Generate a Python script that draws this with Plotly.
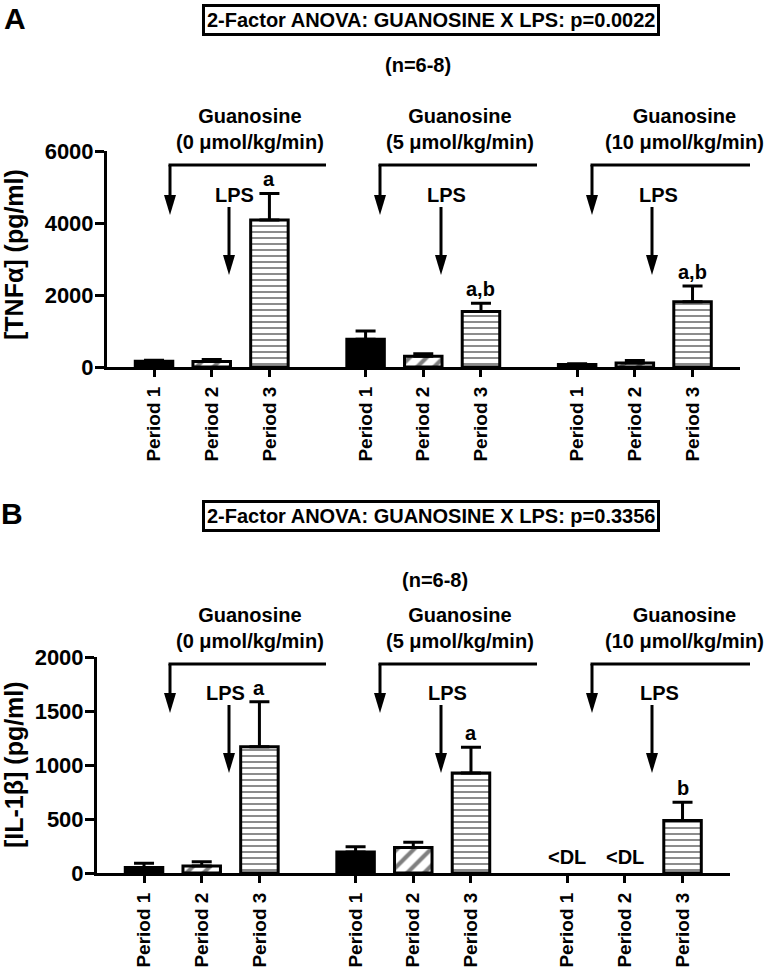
import plotly.graph_objects as go

W, H = 767, 967

# ---------------- data ----------------
periods = ["Period 1", "Period 2", "Period 3"]
doses = ["0", "5", "10"]
group_gap = 11 / 3  # spacing between guanosine groups (category units)

# Panel A: TNF-alpha (pg/ml), one value per guanosine dose
tnf_p1 = [160, 770, 70]
tnf_p1_err = [30, 230, 20]
tnf_p2 = [150, 300, 110]
tnf_p2_err = [60, 70, 70]
tnf_p3 = [4080, 1540, 1810]
tnf_p3_err = [740, 230, 440]
tnf_letters = ["a", "a,b", "a,b"]
tnf_ticks = [0, 2000, 4000, 6000]

# Panel B: IL-1beta (pg/ml); None = below detection limit
il1_p1 = [50, 195, None]
il1_p1_err = [40, 48, None]
il1_p2 = [65, 235, None]
il1_p2_err = [40, 50, None]
il1_p3 = [1170, 925, 485]
il1_p3_err = [415, 240, 170]
il1_letters = ["a", "a", "b"]
il1_ticks = [0, 500, 1000, 1500, 2000]

FONT = "Liberation Sans, Arial, Helvetica, sans-serif"

def px(x, y):
    return x / W, 1 - y / H

fig = go.Figure()

patterns = [
    dict(shape=""),
    dict(shape="/", fgcolor="black", bgcolor="white", size=12, solidity=0.35),
    dict(shape="-", fgcolor="black", bgcolor="white", size=6, solidity=0.3),
]
fills = ["black", "white", "white"]

def add_panel(series, errs, xa, ya):
    for j, (vals, ev) in enumerate(zip(series, errs)):
        xs = [g * group_gap + j for g in range(len(doses))]
        fig.add_trace(go.Bar(
            x=xs, y=vals, width=0.65,
            xaxis=xa, yaxis=ya,
            marker=dict(color=fills[j], line=dict(color="black", width=3),
                        pattern=patterns[j]),
            error_y=dict(type="data", symmetric=False, array=ev,
                         arrayminus=[0 if e is not None else None for e in ev],
                         color="black", thickness=3, width=10),
            showlegend=False, hoverinfo="skip",
        ))

add_panel([tnf_p1, tnf_p2, tnf_p3], [tnf_p1_err, tnf_p2_err, tnf_p3_err], "x", "y")
add_panel([il1_p1, il1_p2, il1_p3], [il1_p1_err, il1_p2_err, il1_p3_err], "x2", "y2")

tickpos = [g * group_gap + j for g in range(3) for j in range(3)]
ticktext = ["<b>" + periods[j] + "</b>" for g in range(3) for j in range(3)]
xr = [-0.815, 10.156]

def xax(domain, anchor):
    return dict(domain=domain, range=xr, anchor=anchor, automargin=False,
                showline=True, linewidth=3, linecolor="black",
                ticks="outside", ticklen=7, tickwidth=3, tickcolor="black",
                ticklabelstandoff=2,
                tickvals=tickpos, ticktext=ticktext, tickangle=-90,
                tickfont=dict(family=FONT, size=19, color="black", weight="bold"),
                showgrid=False, zeroline=False, fixedrange=True)

def yax(domain, anchor, rng, tv):
    return dict(domain=domain, range=rng, anchor=anchor, automargin=False,
                showline=True, linewidth=3, linecolor="black",
                ticks="outside", ticklen=9, tickwidth=3, tickcolor="black",
                ticklabelstandoff=-3,
                tickvals=tv, ticktext=[str(t) for t in tv],
                tickfont=dict(family=FONT, size=22, color="black", weight="bold"),
                showgrid=False, zeroline=False, fixedrange=True)

fig.update_layout(
    width=W, height=H, margin=dict(l=0, r=0, t=0, b=0, pad=0, autoexpand=False),
    paper_bgcolor="white", plot_bgcolor="rgba(0,0,0,0)",
    barmode="overlay", showlegend=False,
    font=dict(family=FONT, size=20, color="black", weight="bold"),
    xaxis=xax([107 / W, 740 / W], "y"),
    yaxis=yax([1 - 367 / H, 1 - 151 / H], "x", [0, 6000], tnf_ticks),
    xaxis2=xax([97 / W, 730 / W], "y2"),
    yaxis2=yax([1 - 873 / H, 1 - 657 / H], "x2", [0, 2000], il1_ticks),
)

shapes = []
ann = []

def txt(text, x, y, size=20, **kw):
    ax_, ay_ = px(x, y)
    d = dict(text=text, x=ax_, y=ay_, xref="paper", yref="paper", showarrow=False,
             font=dict(family=FONT, size=size, color="black", weight="bold"),
             xanchor="center", yanchor="middle")
    d.update(kw)
    ann.append(d)

def line(x0, y0, x1, y1, w=3):
    a, b = px(x0, y0)
    c, d = px(x1, y1)
    shapes.append(dict(type="line", xref="paper", yref="paper", x0=a, y0=b, x1=c, y1=d,
                       line=dict(color="black", width=w)))

def arrow(x, y0, tip, head=20, hw=6):
    line(x, y0, x, tip - head + 2)
    p = [px(x - hw, tip - head), px(x + hw, tip - head), px(x, tip)]
    path = "M {} {} L {} {} L {} {} Z".format(p[0][0], p[0][1], p[1][0], p[1][1], p[2][0], p[2][1])
    shapes.append(dict(type="path", xref="paper", yref="paper", path=path,
                       fillcolor="black", line=dict(width=0)))

bracket_x = [170, 380, 592]
bracket_end = [326, 537, 750]
lps_x = [229, 441, 652]
guan_cx = [250, 460, 684]

panels = [
    dict(label="A", lab_xy=(15, 18), title="2-Factor ANOVA: GUANOSINE X LPS: p=0.0022",
         title_y=20, n_xy=(418, 65), guan_y=129.5, br_y=165, br_tip=215,
         lps_y=195, lps_tx=[234, 446, 658], lps_top=207, lps_tip=275,
         ytitle="[TNFα] (pg/ml)", ytitle_y=255),
    dict(label="B", lab_xy=(12, 513), title="2-Factor ANOVA: GUANOSINE X LPS: p=0.3356",
         title_y=516, n_xy=(435, 580), guan_y=627.5, br_y=664, br_tip=713,
         lps_y=693, lps_tx=[226, 447, 659], lps_top=705, lps_tip=773,
         ytitle="[IL-1β] (pg/ml)", ytitle_y=765),
]

for P in panels:
    txt(P["label"], *P["lab_xy"], size=30)
    txt(P["title"], 431, P["title_y"], size=20, bordercolor="black", borderwidth=3,
        borderpad=2, bgcolor="white")
    txt("(n=6-8)", *P["n_xy"], size=20)
    txt(P["ytitle"], 14, P["ytitle_y"], size=25, textangle=-90)
    for g in range(3):
        txt("Guanosine<br>(" + doses[g] + " μmol/kg/min)", guan_cx[g], P["guan_y"], size=20)
        line(bracket_x[g] - 1.5, P["br_y"], bracket_end[g], P["br_y"])
        arrow(bracket_x[g], P["br_y"], P["br_tip"])
        txt("LPS", P["lps_tx"][g], P["lps_y"], size=20)
        arrow(lps_x[g], P["lps_top"], P["lps_tip"])

# significance letters above Period 3 bars
for g in range(3):
    ann.append(dict(text=tnf_letters[g], x=g * group_gap + 2, y=tnf_p3[g] + tnf_p3_err[g],
                    xref="x", yref="y", showarrow=False, yanchor="bottom", yshift=1,
                    font=dict(family=FONT, size=20, color="black", weight="bold")))
    ann.append(dict(text=il1_letters[g], x=g * group_gap + 2, y=il1_p3[g] + il1_p3_err[g],
                    xref="x2", yref="y2", showarrow=False, yanchor="bottom", yshift=1,
                    font=dict(family=FONT, size=20, color="black", weight="bold")))

# below-detection-limit markers
for j, vals in enumerate([il1_p1, il1_p2]):
    for g in range(3):
        if vals[g] is None:
            ann.append(dict(text="<DL", x=g * group_gap + j, y=0, xref="x2", yref="y2",
                            showarrow=False, yanchor="bottom", yshift=3,
                            font=dict(family=FONT, size=20, color="black", weight="bold")))

fig.update_layout(shapes=shapes, annotations=ann)
fig.write_html("out.html", config={"displayModeBar": False},
               post_script="document.body.style.margin='0';document.body.style.overflow='hidden';")
